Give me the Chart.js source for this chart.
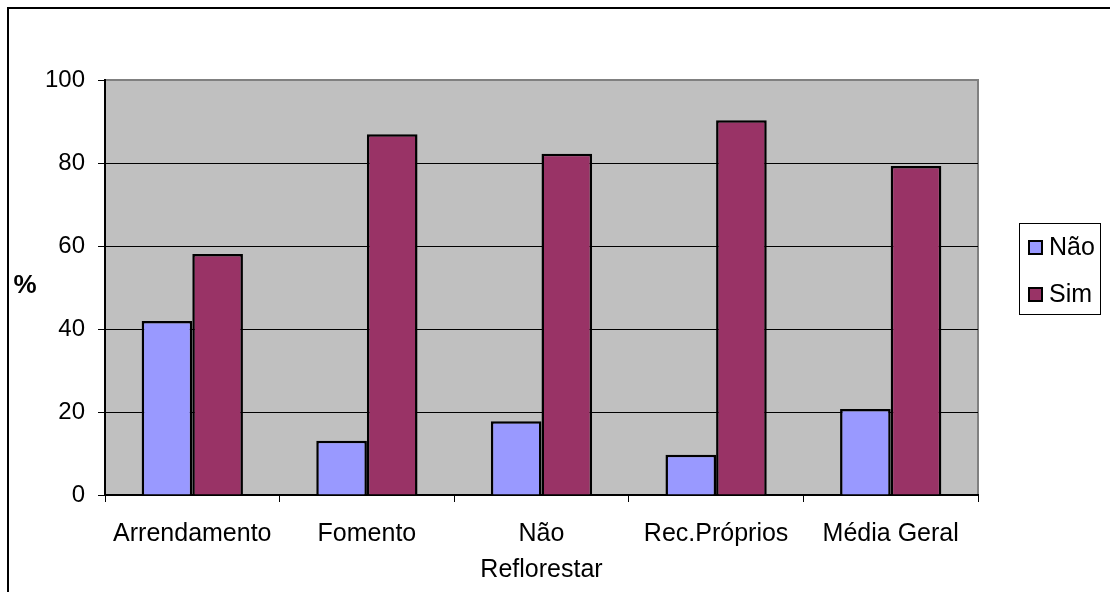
<!DOCTYPE html>
<html>
<head>
<meta charset="utf-8">
<script src="https://cdn.jsdelivr.net/npm/chart.js@4"></script>
<style>
  body { margin: 0; background: #fff; }
  #wrap { position: relative; width: 1110px; height: 592px; overflow: hidden; }
  #frame { position: absolute; left: 7px; top: 7px; width: 1120px; height: 600px; border: 2px solid #000; box-sizing: border-box; }
  #grafik { position: absolute; left: 0; top: 0; }
</style>
</head>
<body>
<div id="wrap">
  <div id="frame"></div>
  <canvas id="grafik" width="1110" height="592"></canvas>
</div>
<script>
const kategori = ["Arrendamento", "Fomento", ["Não", "Reflorestar"], "Rec.Próprios", "Média Geral"];
const nao = [41.9, 13.1, 17.8, 9.7, 20.7];
const sim = [58.1, 86.9, 82.2, 90.3, 79.3];
const yTicks = [0, 20, 40, 60, 80, 100];

const FONT = "'Liberation Sans', Arial, sans-serif";
Chart.defaults.font.family = FONT;
Chart.defaults.color = "#000";

// fundo cinza da área do gráfico
const fundo = {
  id: "fundo",
  beforeDraw(chart) {
    const { ctx, chartArea: a } = chart;
    ctx.save();
    ctx.fillStyle = "#C0C0C0";
    ctx.fillRect(a.left, a.top, a.right - a.left, a.bottom - a.top);
    ctx.strokeStyle = "#808080";
    ctx.lineWidth = 2;
    ctx.strokeRect(a.left, a.top, a.right - a.left, a.bottom - a.top);
    ctx.restore();
  }
};

// legenda com caixa + título "%"
const legenda = {
  id: "legenda",
  afterDraw(chart) {
    const ctx = chart.ctx;
    ctx.save();
    ctx.fillStyle = "#fff";
    ctx.fillRect(1019, 223, 81, 91);
    ctx.strokeStyle = "#000";
    ctx.lineWidth = 1;
    ctx.strokeRect(1019.5, 223.5, 81, 91);
    chart.data.datasets.forEach((ds, i) => {
      const y = 241 + i * 47;
      ctx.fillStyle = ds.backgroundColor;
      ctx.fillRect(1029, y, 13, 13);
      ctx.lineWidth = 2;
      ctx.strokeRect(1029, y, 13, 13);
      ctx.fillStyle = "#000";
      ctx.font = "25px " + FONT;
      ctx.textBaseline = "middle";
      ctx.textAlign = "left";
      ctx.fillText(ds.label, 1049, y + 7);
    });
    ctx.font = "bold 26px " + FONT;
    ctx.textAlign = "center";
    ctx.textBaseline = "middle";
    ctx.fillText("%", 25, 286);
    ctx.restore();
  }
};

new Chart(document.getElementById("grafik"), {
  type: "bar",
  data: {
    labels: kategori,
    datasets: [
      { label: "Não", data: nao, backgroundColor: "#9999FF", borderColor: "#000", borderWidth: 2.5 },
      { label: "Sim", data: sim, backgroundColor: "#993366", borderColor: "#000", borderWidth: 2.5 }
    ]
  },
  options: {
    responsive: false,
    animation: false,
    layout: { padding: { top: 80, right: 132, bottom: 0, left: 0 } },
    datasets: { bar: { categoryPercentage: 0.58, barPercentage: 1 } },
    plugins: { legend: { display: false }, tooltip: { enabled: false } },
    scales: {
      x: {
        afterFit: s => { s.height = 97; },
        grid: { drawOnChartArea: false, tickLength: 7, color: "#000", offset: true },
        border: { color: "#000", width: 2 },
        ticks: { font: { size: 25, lineHeight: 1.45 }, padding: 14, maxRotation: 0, autoSkip: false }
      },
      y: {
        min: 0,
        max: 100,
        afterFit: s => { s.width = 105; },
        afterBuildTicks: s => { s.ticks = yTicks.map(v => ({ value: v })); },
        grid: {
          tickLength: 7,
          tickColor: "#000",
          color: c => (c.tick && c.tick.value === 100 ? "#808080" : "#000"),
          lineWidth: 1
        },
        border: { color: "#000", width: 2 },
        ticks: { font: { size: 24 }, padding: 13 }
      }
    }
  },
  plugins: [fundo, legenda]
});
</script>
</body>
</html>
